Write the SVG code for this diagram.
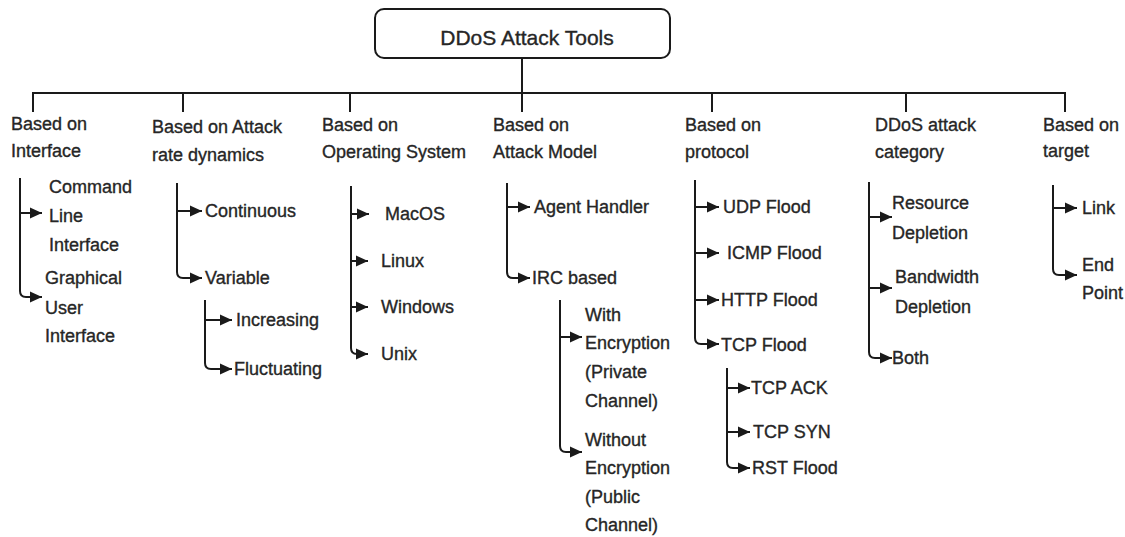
<svg xmlns="http://www.w3.org/2000/svg" width="1125" height="537" viewBox="0 0 1125 537">
<style>
text{font-family:"Liberation Sans",Arial,sans-serif;font-size:18px;fill:#262626;stroke:#262626;stroke-width:0.35}
.title{font-size:21px}
.ln{fill:none;stroke:#1a1a1a;stroke-width:2}
.ar{fill:none;stroke:#1a1a1a;stroke-width:2;marker-end:url(#ah)}
</style>
<defs>
<marker id="ah" markerUnits="userSpaceOnUse" markerWidth="14" markerHeight="14" refX="12" refY="7" orient="auto">
<path d="M0,1.5 L12,7 L0,12.5 z" fill="#1a1a1a"/>
</marker>
</defs>
<rect width="1125" height="537" fill="#fff"/>
<g id="connectors">
<path class="ln" d="M522,58 V112"/>
<path class="ln" d="M33,112 V93 H1065 V112"/>
<path class="ln" d="M183,93 V112 M350,93 V112 M712,93 V112 M906,93 V112"/>
<path class="ar" d="M20,178 V291 Q20,297 26,297 H42"/>
<path class="ar" d="M20,213 H42"/>
<path class="ar" d="M177,183 V272 Q177,278 183,278 H202"/>
<path class="ar" d="M177,211 H202"/>
<path class="ar" d="M205,300 V363 Q205,369 211,369 H232"/>
<path class="ar" d="M205,320 H232"/>
<path class="ar" d="M351,186 V348 Q351,354 357,354 H368"/>
<path class="ar" d="M351,214 H369"/>
<path class="ar" d="M351,261 H368"/>
<path class="ar" d="M351,307 H368"/>
<path class="ar" d="M507,183 V272 Q507,278 513,278 H530"/>
<path class="ar" d="M507,207 H530"/>
<path class="ar" d="M560,300 V446 Q560,452 566,452 H582"/>
<path class="ar" d="M560,337 H582"/>
<path class="ar" d="M695,180 V338 Q695,344 701,344 H719"/>
<path class="ar" d="M695,207 H719"/>
<path class="ar" d="M695,253 H719"/>
<path class="ar" d="M695,300 H719"/>
<path class="ar" d="M727,368 V462 Q727,468 733,468 H750"/>
<path class="ar" d="M727,388 H750"/>
<path class="ar" d="M727,432 H750"/>
<path class="ar" d="M869,182 V352 Q869,358 875,358 H892"/>
<path class="ar" d="M869,217 H892"/>
<path class="ar" d="M869,288 H892"/>
<path class="ar" d="M1053,185 V269 Q1053,275 1059,275 H1077"/>
<path class="ar" d="M1053,208 H1077"/>
</g>
<g id="root">
<rect x="375" y="9" width="295" height="49" rx="9" fill="#fff" stroke="#1a1a1a" stroke-width="2"/>
<text class="title" x="527" y="45" text-anchor="middle">DDoS Attack Tools</text>
</g>
<g id="cat-interface"><text x="11" y="130">Based on</text><text x="11" y="157">Interface</text></g>
<g id="cat-rate"><text x="152" y="133">Based on Attack</text><text x="152" y="161">rate dynamics</text></g>
<g id="cat-os"><text x="322" y="131">Based on</text><text x="322" y="158">Operating System</text></g>
<g id="cat-model"><text x="493" y="131">Based on</text><text x="493" y="158">Attack Model</text></g>
<g id="cat-protocol"><text x="685" y="131">Based on</text><text x="685" y="158">protocol</text></g>
<g id="cat-category"><text x="875" y="131">DDoS attack</text><text x="875" y="158">category</text></g>
<g id="cat-target"><text x="1043" y="131">Based on</text><text x="1043" y="157">target</text></g>
<g id="cli"><text x="49" y="193">Command</text><text x="49" y="222">Line</text><text x="49" y="251">Interface</text></g>
<g id="gui"><text x="45" y="284">Graphical</text><text x="45" y="314">User</text><text x="45" y="342">Interface</text></g>
<g id="continuous"><text x="205" y="217">Continuous</text></g>
<g id="variable"><text x="205" y="284">Variable</text></g>
<g id="increasing"><text x="236" y="326">Increasing</text></g>
<g id="fluctuating"><text x="234" y="375">Fluctuating</text></g>
<g id="macos"><text x="385" y="220">MacOS</text></g>
<g id="linux"><text x="381" y="267">Linux</text></g>
<g id="windows"><text x="381" y="313">Windows</text></g>
<g id="unix"><text x="381" y="360">Unix</text></g>
<g id="agent-handler"><text x="534" y="213">Agent Handler</text></g>
<g id="irc"><text x="532" y="284">IRC based</text></g>
<g id="with-enc"><text x="585" y="321">With</text><text x="585" y="349">Encryption</text><text x="585" y="378">(Private</text><text x="585" y="407">Channel)</text></g>
<g id="without-enc"><text x="585" y="446">Without</text><text x="585" y="474">Encryption</text><text x="585" y="503">(Public</text><text x="585" y="531">Channel)</text></g>
<g id="udp"><text x="723" y="213">UDP Flood</text></g>
<g id="icmp"><text x="727" y="259">ICMP Flood</text></g>
<g id="http"><text x="721" y="306">HTTP Flood</text></g>
<g id="tcp"><text x="721" y="351">TCP Flood</text></g>
<g id="tcp-ack"><text x="751" y="394">TCP ACK</text></g>
<g id="tcp-syn"><text x="753" y="438">TCP SYN</text></g>
<g id="rst"><text x="752" y="474">RST Flood</text></g>
<g id="resource"><text x="892" y="209">Resource</text><text x="892" y="239">Depletion</text></g>
<g id="bandwidth"><text x="895" y="283">Bandwidth</text><text x="895" y="313">Depletion</text></g>
<g id="both"><text x="892" y="364">Both</text></g>
<g id="link"><text x="1082" y="214">Link</text></g>
<g id="endpoint"><text x="1082" y="271">End</text><text x="1082" y="299">Point</text></g>
</svg>
